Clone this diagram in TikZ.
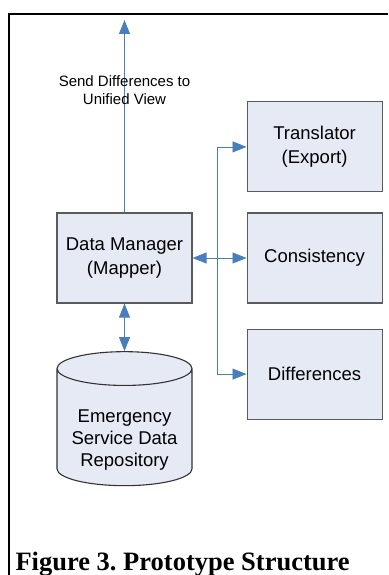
\documentclass[tikz,border=0pt]{standalone}
\usepackage{fontspec}
\setmainfont{Liberation Serif}
\newfontfamily\arialfont{Liberation Sans}
\usepackage{tikz}
\usetikzlibrary{
    positioning,
    shapes.geometric,
    arrows.meta,
    calc
}
\usepackage{xcolor}
\definecolor{boxfill}{HTML}{E6EAF5}
\definecolor{boxline}{HTML}{5A5A5A}
\definecolor{linkblue}{HTML}{4A7EBB}

\begin{document}
\begin{tikzpicture}[
    x=1pt, y=1pt,
    node distance=20pt,
    module/.style={
        rectangle,
        draw=boxline,
        fill=boxfill,
        line width=1.1pt,
        minimum width=135pt,
        minimum height=90pt,
        text centered,
        align=center,
        font=\arialfont\fontsize{18.5}{24}\selectfont
    },
    store/.style={
        cylinder,
        shape border rotate=90,
        aspect=0.3,
        draw=black!80,
        fill=boxfill,
        line width=1.1pt,
        minimum width=135pt,
        minimum height=134pt,
        align=center,
        font=\arialfont\fontsize{18.5}{22}\selectfont
    },
    arrow/.style={-{Triangle[length=14pt,width=11pt]}, line width=0.8pt, color=linkblue},
    twoway/.style={arrow, {Triangle[length=14pt,width=11pt]}-{Triangle[length=14pt,width=11pt]}}
]
\useasboundingbox (0,0) rectangle (388,-575);

% Frame
\draw[line width=1.8pt] (9,-575) -- (9,-14) -- (388,-14);

% Modules
\node[module] (dm) at (124.5,-258) {Data Manager\\(Mapper)};
\node[module, right=54pt of dm] (cons) {Consistency};
\node[module, above=20pt of cons] (trans) {Translator\\(Export)};
\node[module, below=25pt of cons] (diff) {Differences};

% Repository
\node[store] (repo) at (124.5,-430) {\raisebox{-14pt}[0pt][0pt]{\begin{tabular}{@{}c@{}}Emergency\\Service Data\\Repository\end{tabular}}};

% Arrows
\coordinate (up) at (124.5,-20);
\coordinate (bus) at (217,-258);
\draw[arrow] (dm.north) -- (up);
\draw[twoway] (dm.east) -- (cons.west);
\draw[arrow] (bus) |- (trans.west);
\draw[arrow] (bus) |- (diff.west);
\draw[twoway] (dm.south) -- (repo.north);

% Labels
\node[align=center, font=\arialfont\fontsize{15}{18}\selectfont] (send) at (124.5,-90) {Send Differences to\\Unified View};
\node[anchor=base west, font=\fontsize{26.5}{30}\selectfont\bfseries] (caption) at (12,-570) {Figure 3.\ Prototype Structure};

\end{tikzpicture}
\end{document}
